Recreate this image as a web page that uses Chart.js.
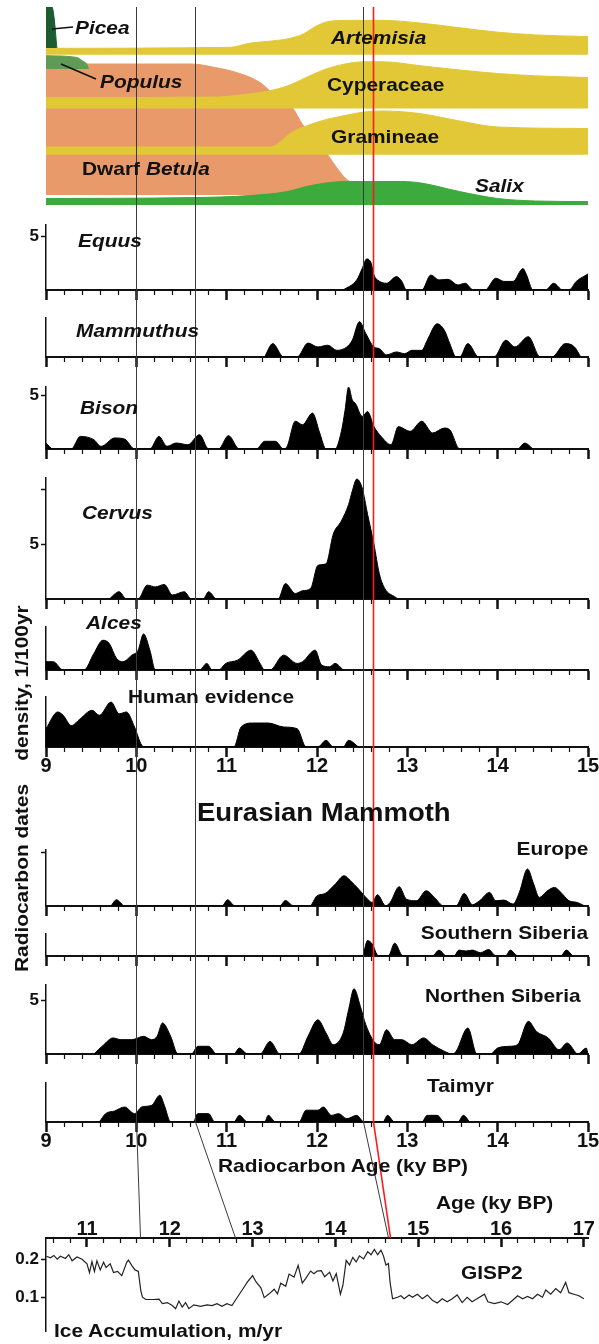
<!DOCTYPE html>
<html>
<head>
<meta charset="utf-8">
<script src="https://cdn.jsdelivr.net/npm/chart.js@4.4.1/dist/chart.umd.min.js"></script>
<style>
  body { margin: 0; background: #fff; }
  #page { position: relative; width: 599px; height: 1344px; overflow: hidden; background: #fff;
          font-family: "Liberation Sans", Arial, sans-serif; }
  #page canvas { position: absolute; left: 0; }
  .lbl { position: absolute; font-weight: bold; white-space: nowrap; line-height: 1; color: #111; z-index: 5; }
</style>
</head>
<body>
<div id="page"></div>
<script>
// ---- boundaries (radiocarbon age, calendar age) ----
const boundaryRc = [10.0, 10.65, 12.51, 12.62];
const boundaryCal = [11.64, 12.79, 14.64, 14.66];
const boundaryColor = ['#3a3a3a', '#3a3a3a', '#3a3a3a', '#ff1a1a'];

// ---- pollen diagram: [radiocarbon age, band thickness] ----
const picea = [[9, 41], [9.066, 41], [9.09, 30], [9.12, 0]];
const populus = [[9, 13.3], [9.34, 11.6], [9.40, 8.3], [9.46, 3.3], [9.47, 0]];
const artemisia = [[9, 6.4], [11.04, 7.4], [11.25, 11.4], [11.46, 13.4], [11.67, 15.8], [11.85, 20.8], [11.97, 27.5],
  [12.10, 32.6], [12.31, 34.3], [12.73, 34.3], [13.15, 31.6], [13.58, 26.9], [14.0, 22.5], [14.42, 19.8], [15, 18.1]];
const cyperaceae = [[9, 10.8], [10.9, 11.4], [11.11, 13], [11.46, 17.4], [11.67, 22.4], [11.88, 30.9], [12.10, 39.4],
  [12.31, 44.4], [12.52, 46.6], [12.73, 46.6], [13.15, 42.6], [13.58, 38.4], [14.0, 34.9], [14.42, 32.6], [15, 30.9]];
const gramineae = [[9, 7.8], [11.48, 7.8], [11.55, 10], [11.71, 21.8], [11.88, 28.8], [12.10, 35.2], [12.31, 39.3],
  [12.52, 42.8], [12.73, 43.8], [13.15, 41.1], [13.58, 33.8], [14.0, 27.8], [15, 26.3]];
const dwarfBetula = [[9, 131], [10.61, 131], [10.87, 127.5], [11.11, 122.5], [11.37, 112.5], [11.48, 104], [11.73, 87],
  [11.84, 70.5], [11.98, 55], [12.12, 40], [12.22, 27], [12.31, 17], [12.37, 12], [12.42, 0]];
const salix = [[9, 6.5], [10.61, 7.4], [11.25, 9.4], [11.67, 13.4], [11.88, 18.4], [12.10, 22], [12.31, 23.5],
  [12.94, 23.5], [13.15, 22], [13.58, 13.4], [14.0, 6.5], [14.42, 4], [15, 3.4]];

// ---- radiocarbon date densities, 1/100yr: [age ky BP, density] ----
const equus = [[12.29, 0], [12.44, 0.94], [12.50, 2.0], [12.55, 2.9], [12.60, 2.5], [12.63, 1.4], [12.67, 0.94], [12.77, 0.63],
  [12.88, 1.25], [12.94, 0.8], [12.99, 0], [13.16, 0], [13.26, 1.4], [13.35, 0.94], [13.45, 1.0], [13.56, 0.47], [13.64, 0.63],
  [13.73, 0], [13.86, 0], [13.98, 1.1], [14.07, 0.8], [14.17, 0.8], [14.28, 2.0], [14.32, 1.4], [14.39, 0], [14.53, 0],
  [14.62, 0.63], [14.72, 0], [14.79, 0], [14.87, 0.8], [14.98, 1.4], [15, 1.5]];
const mammuthus = [[11.42, 0], [11.51, 1.25], [11.63, 0], [11.78, 0], [11.90, 1.3], [12.01, 0.94], [12.12, 1.1], [12.22, 0.62],
  [12.33, 0.94], [12.39, 1.56], [12.47, 3.3], [12.54, 2.2], [12.63, 0.94], [12.69, 0.78], [12.77, 0.2], [12.88, 0.47],
  [12.97, 0.31], [13.05, 0.62], [13.16, 0.62], [13.22, 1.56], [13.33, 3.1], [13.41, 2.5], [13.47, 1.25], [13.54, 0],
  [13.58, 0], [13.67, 1.25], [13.79, 0], [13.96, 0], [14.09, 1.56], [14.19, 0.94], [14.34, 1.9], [14.47, 0], [14.60, 0],
  [14.75, 1.25], [14.85, 0.94], [14.92, 0]];
const bison = [[9.0, 0.56], [9.08, 0], [9.28, 0], [9.38, 1.18], [9.53, 0.87], [9.61, 0.25], [9.76, 1.03], [9.87, 0.93],
  [9.98, 0], [10.15, 0], [10.25, 1.18], [10.34, 0.25], [10.44, 0.56], [10.57, 0.4], [10.70, 1.34], [10.8, 0], [10.91, 0],
  [11.02, 1.25], [11.14, 0], [11.33, 0], [11.42, 0.72], [11.54, 0.72], [11.63, 0], [11.67, 0.25], [11.76, 2.6], [11.84, 2.27],
  [11.95, 3.36], [12.03, 1.5], [12.10, 0], [12.2, 0], [12.27, 1.65], [12.31, 3.6], [12.35, 5.8], [12.39, 4.6], [12.43, 4.2],
  [12.50, 3.05], [12.56, 3.5], [12.63, 2.1], [12.71, 1.18], [12.82, 0.4], [12.90, 2.1], [13.03, 1.65], [13.16, 2.6],
  [13.28, 1.5], [13.41, 1.96], [13.47, 1.8], [13.58, 0], [14.22, 0], [14.30, 0.56], [14.39, 0]];
const cervus = [[9.70, 0], [9.81, 0.66], [9.89, 0], [10.02, 0], [10.12, 1.26], [10.21, 1.1], [10.31, 1.32], [10.40, 0.36],
  [10.53, 0.66], [10.61, 0], [10.74, 0], [10.80, 0.66], [10.89, 0], [11.57, 0], [11.65, 1.4], [11.76, 0.5], [11.84, 0.75],
  [11.93, 0.96], [12.01, 3.06], [12.10, 3.2], [12.18, 5.9], [12.27, 7.1], [12.35, 8.6], [12.39, 9.8], [12.44, 10.9],
  [12.50, 10.1], [12.56, 7.7], [12.63, 5.0], [12.69, 2.3], [12.75, 0.96], [12.86, 0.2], [12.9, 0]];
const alces = [[9.0, 0.78], [9.08, 0.78], [9.19, 0], [9.42, 0], [9.53, 1.56], [9.63, 2.8], [9.70, 2.5], [9.78, 1.1],
  [9.85, 0.78], [9.95, 1.4], [10.02, 1.87], [10.08, 3.4], [10.15, 1.87], [10.21, 0], [10.70, 0], [10.78, 0.62], [10.84, 0],
  [10.91, 0], [10.99, 0.62], [11.12, 0.93], [11.27, 1.87], [11.37, 0.62], [11.42, 0], [11.48, 0], [11.63, 1.4], [11.78, 0.62],
  [11.84, 0.78], [11.98, 1.87], [12.05, 0.47], [12.14, 0.31], [12.20, 0.62], [12.29, 0]];
const human = [[9.0, 1.71], [9.13, 3.27], [9.19, 2.96], [9.28, 2.0], [9.38, 2.65], [9.51, 3.43], [9.59, 2.96], [9.72, 4.2],
  [9.81, 3.1], [9.89, 3.27], [9.98, 1.87], [10.06, 0.16], [10.1, 0], [11.08, 0], [11.16, 1.87], [11.29, 2.24], [11.46, 2.24],
  [11.63, 1.87], [11.78, 1.71], [11.88, 0], [12.01, 0], [12.10, 0.62], [12.18, 0], [12.29, 0], [12.35, 0.62], [12.46, 0]];
const europe = [[9.72, 0], [9.78, 0.56], [9.87, 0], [10.95, 0], [11.01, 0.56], [11.09, 0], [11.59, 0], [11.65, 0.5],
  [11.74, 0], [11.92, 0], [12.0, 0.93], [12.09, 1.15], [12.20, 2.0], [12.30, 2.8], [12.37, 2.34], [12.46, 1.56], [12.56, 0.62],
  [12.61, 0.31], [12.67, 1.03], [12.76, 0], [12.81, 0.31], [12.91, 1.78], [12.99, 0.62], [13.10, 0.47], [13.21, 1.4],
  [13.30, 0.78], [13.4, 0], [13.54, 0], [13.63, 1.15], [13.72, 0.1], [13.80, 0.47], [13.91, 1.25], [13.98, 0.47],
  [14.07, 0.53], [14.17, 0.16], [14.24, 1.25], [14.33, 3.43], [14.40, 2.0], [14.46, 0.78], [14.55, 1.4], [14.63, 1.71],
  [14.70, 1.25], [14.79, 0.47], [14.88, 0.31], [14.96, 0]];
const southernSiberia = [[12.51, 0], [12.56, 1.5], [12.61, 1.18], [12.68, 0], [12.79, 0], [12.86, 1.25], [12.95, 0],
  [13.28, 0], [13.35, 0.56], [13.43, 0], [13.52, 0], [13.57, 0.56], [13.65, 0.47], [13.72, 0.56], [13.81, 0.31],
  [13.90, 0.62], [13.98, 0], [14.09, 0], [14.14, 0.56], [14.22, 0], [14.70, 0], [14.76, 0.56], [14.83, 0]];
const northernSiberia = [[9.53, 0], [9.64, 0.87], [9.74, 1.5], [9.83, 1.34], [9.95, 1.34], [10.08, 1.65], [10.17, 1.34],
  [10.23, 1.65], [10.29, 2.9], [10.38, 1.65], [10.46, 0], [10.61, 0], [10.68, 0.72], [10.80, 0.72], [10.89, 0], [11.08, 0],
  [11.14, 0.56], [11.23, 0], [11.37, 0], [11.48, 1.18], [11.59, 0], [11.80, 0], [11.90, 1.65], [12.01, 3.2], [12.10, 1.96],
  [12.18, 0.87], [12.29, 1.96], [12.35, 4.14], [12.41, 6.1], [12.48, 4.45], [12.54, 2.74], [12.63, 1.18], [12.69, 0.87],
  [12.77, 2.27], [12.86, 1.34], [12.94, 1.34], [13.05, 0.87], [13.18, 1.5], [13.28, 0.87], [13.41, 0.25], [13.50, 0],
  [13.54, 0.25], [13.67, 2.43], [13.77, 0], [13.92, 0], [14.0, 0.56], [14.13, 0.72], [14.22, 0.87], [14.34, 3.05],
  [14.43, 2.1], [14.56, 1.5], [14.68, 0.4], [14.77, 1.03], [14.89, 0], [14.98, 0.56], [15, 0]];
const taimyr = [[9.59, 0], [9.66, 0.78], [9.76, 1.03], [9.87, 1.4], [9.98, 0.78], [10.06, 1.4], [10.17, 1.56], [10.26, 2.5],
  [10.31, 1.56], [10.38, 0], [10.63, 0], [10.68, 0.78], [10.80, 0.78], [10.87, 0], [11.08, 0], [11.14, 0.62], [11.23, 0],
  [11.42, 0], [11.46, 0.62], [11.54, 0], [11.80, 0], [11.88, 1.1], [12.01, 1.1], [12.07, 1.4], [12.16, 0.62], [12.24, 0.78],
  [12.33, 0.31], [12.44, 0.62], [12.52, 0], [12.73, 0], [12.78, 0.62], [12.86, 0], [13.16, 0], [13.22, 0.62], [13.33, 0.62],
  [13.41, 0], [13.56, 0], [13.62, 0.62], [13.69, 0]];

// ---- GISP2 ice accumulation, m/yr: [calendar age ky BP, accumulation] ----
const gisp2 = [[10.51, 0.208], [10.56, 0.204], [10.60, 0.210], [10.64, 0.200], [10.68, 0.208], [10.74, 0.202], [10.78, 0.212],
  [10.82, 0.196], [10.88, 0.206], [10.94, 0.200], [11.0, 0.188], [11.03, 0.165], [11.06, 0.194], [11.09, 0.168], [11.12, 0.196],
  [11.16, 0.172], [11.20, 0.192], [11.23, 0.178], [11.28, 0.188], [11.32, 0.165], [11.37, 0.168], [11.42, 0.157], [11.48, 0.192],
  [11.50, 0.198], [11.54, 0.184], [11.58, 0.172], [11.62, 0.168], [11.65, 0.117], [11.67, 0.1], [11.71, 0.094], [11.81, 0.094],
  [11.87, 0.095], [11.91, 0.083], [11.97, 0.086], [12.03, 0.078], [12.07, 0.070], [12.11, 0.090], [12.15, 0.074], [12.19, 0.086],
  [12.23, 0.070], [12.29, 0.080], [12.37, 0.076], [12.45, 0.080], [12.51, 0.078], [12.57, 0.083], [12.63, 0.076], [12.69, 0.083],
  [12.75, 0.078], [12.81, 0.098], [12.88, 0.121], [12.94, 0.141], [13.00, 0.157], [13.04, 0.141], [13.10, 0.125], [13.14, 0.099],
  [13.20, 0.109], [13.26, 0.121], [13.30, 0.109], [13.34, 0.137], [13.40, 0.129], [13.44, 0.161], [13.50, 0.153], [13.55, 0.184],
  [13.60, 0.137], [13.64, 0.149], [13.70, 0.169], [13.74, 0.162], [13.78, 0.169], [13.83, 0.170], [13.87, 0.154], [13.93, 0.166],
  [13.97, 0.143], [14.01, 0.162], [14.06, 0.108], [14.09, 0.131], [14.13, 0.197], [14.17, 0.185], [14.21, 0.205], [14.25, 0.193],
  [14.29, 0.209], [14.34, 0.201], [14.39, 0.220], [14.43, 0.212], [14.47, 0.226], [14.51, 0.212], [14.55, 0.224], [14.58, 0.209],
  [14.61, 0.185], [14.64, 0.189], [14.66, 0.139], [14.69, 0.096], [14.75, 0.1], [14.79, 0.104], [14.83, 0.096], [14.89, 0.106],
  [14.93, 0.1], [14.99, 0.108], [15.05, 0.096], [15.11, 0.106], [15.17, 0.092], [15.23, 0.085], [15.29, 0.096], [15.35, 0.088],
  [15.41, 0.096], [15.47, 0.106], [15.53, 0.086], [15.59, 0.1], [15.65, 0.088], [15.71, 0.096], [15.80, 0.108], [15.84, 0.088],
  [15.92, 0.083], [16.0, 0.088], [16.08, 0.081], [16.14, 0.092], [16.20, 0.104], [16.26, 0.096], [16.32, 0.102], [16.38, 0.096],
  [16.44, 0.108], [16.50, 0.1], [16.54, 0.119], [16.60, 0.108], [16.66, 0.123], [16.72, 0.112], [16.78, 0.139], [16.82, 0.112],
  [16.88, 0.108], [16.94, 0.104], [17.0, 0.096]];

const FONT = '"Liberation Sans", Arial, sans-serif';
const page = document.getElementById('page');
const pts = arr => arr.map(([x, y]) => ({x, y}));

// vertical boundary lines through every panel, slanting down to the GISP2 time scale
const ageLines = {
  id: 'ageLines',
  afterDatasetsDraw(chart, args, opts) {
    if (!opts.mode) return;
    const {ctx, chartArea} = chart;
    ctx.save();
    boundaryRc.forEach((age, i) => {
      ctx.strokeStyle = boundaryColor[i];
      ctx.lineWidth = i === 3 ? 1.6 : 1;
      ctx.beginPath();
      if (opts.mode === 'slant') {
        ctx.moveTo(Math.round(chart.scales.rc.getPixelForValue(age)) + 0.5, 0);
        ctx.lineTo(Math.round(chart.scales.cal.getPixelForValue(boundaryCal[i])) + 0.5, chartArea.top);
      } else {
        const px = Math.round(chart.scales.x.getPixelForValue(age)) + 0.5;
        ctx.moveTo(px, opts.mode === 'fromArea' ? chartArea.top : 0);
        ctx.lineTo(px, opts.mode === 'toArea' ? chartArea.bottom : chart.height);
      }
      ctx.stroke();
    });
    ctx.restore();
  }
};
Chart.register(ageLines);

function makeCanvas(top, bottom) {
  const c = document.createElement('canvas');
  c.width = 599;
  c.height = bottom - top;
  c.style.top = top + 'px';
  c.style.width = '599px';
  c.style.height = (bottom - top) + 'px';
  page.appendChild(c);
  return c;
}

function baseOptions(p, left) {
  return {
    responsive: false,
    animation: false,
    events: [],
    layout: {padding: {left: left, right: 11, top: p.areaTop - p.top, bottom: p.bottom - p.areaBottom}},
    plugins: {legend: {display: false}, tooltip: {enabled: false}, ageLines: {mode: p.lineMode || 'full'}}
  };
}

function leftAxis(min, max, step, labelled, fmt) {
  return {
    type: 'linear', min, max, position: 'left',
    afterFit: s => { s.width = 46; },
    ticks: {stepSize: step, includeBounds: false, padding: 2, color: '#111',
      font: {family: FONT, weight: 'bold', size: 17},
      callback: v => labelled.some(l => Math.abs(l - v) < 1e-6) ? fmt(v) : ''},
    grid: {drawOnChartArea: false, tickLength: 5, tickWidth: 1.5,
      tickColor: c => (c.tick && c.tick.value > 1e-6) ? '#111' : 'rgba(0,0,0,0)'},
    border: {color: '#111', width: 1.5}
  };
}

function pollenPanel(p) {
  const band = (data, base, color, order) => ({
    data: pts(data.map(([x, v]) => [x, base + v])),
    fill: {value: base},
    backgroundColor: color,
    borderColor: color,
    borderWidth: 1,
    pointRadius: 0,
    cubicInterpolationMode: 'monotone',
    order
  });
  const opts = baseOptions(p, 46);
  opts.scales = {
    x: {type: 'linear', min: 9, max: 15, display: false},
    y: {type: 'linear', min: 0, max: 198, display: false}
  };
  new Chart(makeCanvas(p.top, p.bottom), {
    type: 'line',
    data: {datasets: [
      band(dwarfBetula, 10, '#e89a6b', 4),
      band(artemisia, 150.3, '#e2c837', 3),
      band(cyperaceae, 96.6, '#e2c837', 3),
      band(gramineae, 50.2, '#e2c837', 3),
      band(salix, 0, '#3caa3c', 3),
      band(picea, 157, '#1d5c32', 1),
      band(populus, 136, '#5f9b57', 1)
    ]},
    options: opts
  });
}

function densityPanel(p) {
  const opts = baseOptions(p, 0);
  opts.scales = {
    x: {
      type: 'linear', min: 9, max: 15, position: {y: 0},
      ticks: {stepSize: 1, maxTicksLimit: 100, autoSkip: false, maxRotation: 0, display: !!p.xLabels,
        padding: -2, color: '#111', font: {family: FONT, weight: 'bold', size: 20}},
      grid: {drawOnChartArea: false, tickLength: 9, tickWidth: 2.5, tickColor: '#111'},
      border: {color: '#111', width: 2}
    },
    xMinor: {
      type: 'linear', min: 9, max: 15, position: {y: 0},
      ticks: {stepSize: 0.2, maxTicksLimit: 100, autoSkip: false, display: false},
      grid: {drawOnChartArea: false, tickLength: 5, tickWidth: 1.2, tickColor: '#111'},
      border: {display: false}
    },
    y: leftAxis(0, p.yMax, 5, p.yLabels || [], v => String(v))
  };
  new Chart(makeCanvas(p.top, p.bottom), {
    type: 'line',
    data: {datasets: [{
      data: pts(p.series), fill: 'origin', backgroundColor: '#000', borderColor: '#000',
      borderWidth: 1, pointRadius: 0, cubicInterpolationMode: 'monotone'
    }]},
    options: opts
  });
}

function gispPanel(p) {
  const opts = baseOptions(p, 0);
  const yMin = 0.009, yMax = 0.256, calMin = 10.505, calMax = 17.05;
  opts.plugins.ageLines.mode = 'slant';
  opts.scales = {
    cal: {
      type: 'linear', axis: 'x', min: calMin, max: calMax, position: {y: yMax},
      ticks: {stepSize: 1, includeBounds: false, maxTicksLimit: 100, autoSkip: false, maxRotation: 0, padding: -29,
        color: '#111', font: {family: FONT, weight: 'bold', size: 20}},
      grid: {drawOnChartArea: false, tickLength: 8, tickWidth: 2.5, tickColor: '#111'},
      border: {color: '#111', width: 2}
    },
    calMinor: {
      type: 'linear', axis: 'x', min: calMin, max: calMax, position: {y: yMax},
      ticks: {stepSize: 0.2, includeBounds: false, maxTicksLimit: 100, autoSkip: false, display: false},
      grid: {drawOnChartArea: false, tickLength: 5, tickWidth: 1.2, tickColor: '#111'},
      border: {display: false}
    },
    rc: {type: 'linear', axis: 'x', min: 9, max: 15, display: false},
    y: leftAxis(yMin, yMax, 0.1, [0.1, 0.2], v => v.toFixed(1))
  };
  new Chart(makeCanvas(p.top, p.bottom), {
    type: 'line',
    data: {datasets: [{
      data: pts(gisp2), xAxisID: 'cal', yAxisID: 'y', fill: false,
      borderColor: '#222', borderWidth: 1.2, pointRadius: 0, tension: 0
    }]},
    options: opts
  });
}

pollenPanel({top: 0, bottom: 212, areaTop: 7, areaBottom: 205, lineMode: 'fromArea'});
densityPanel({top: 212, bottom: 305, areaTop: 225, areaBottom: 290, yMax: 6.07, yLabels: [5], series: equus});
densityPanel({top: 305, bottom: 372, areaTop: 318, areaBottom: 357, yMax: 3.64, series: mammuthus});
densityPanel({top: 372, bottom: 462, areaTop: 387, areaBottom: 449, yMax: 5.8, yLabels: [5], series: bison});
densityPanel({top: 462, bottom: 612, areaTop: 478, areaBottom: 599, yMax: 11.0, yLabels: [5], series: cervus});
densityPanel({top: 612, bottom: 683, areaTop: 627, areaBottom: 670, yMax: 4.05, series: alces});
densityPanel({top: 683, bottom: 790, areaTop: 697, areaBottom: 747, yMax: 4.67, series: human, xLabels: true});
densityPanel({top: 790, bottom: 918, areaTop: 850, areaBottom: 906, yMax: 5.2, series: europe});
densityPanel({top: 918, bottom: 968, areaTop: 934, areaBottom: 957, yMax: 2.15, series: southernSiberia});
densityPanel({top: 968, bottom: 1068, areaTop: 985, areaBottom: 1054, yMax: 6.45, yLabels: [5], series: northernSiberia});
densityPanel({top: 1068, bottom: 1190, areaTop: 1083, areaBottom: 1122, yMax: 3.64, series: taimyr, xLabels: true, lineMode: 'toArea'});
gispPanel({top: 1122, bottom: 1344, areaTop: 1238, areaBottom: 1344});

// ---- text labels ----
function label(html, x, y, size, extra) {
  extra = extra || {};
  const d = document.createElement('div');
  d.className = 'lbl';
  d.innerHTML = html;
  d.style.fontSize = size + 'px';
  d.style.top = (y - size / 2) + 'px';
  const sx = extra.sx || 1.1;
  if (extra.right) {
    d.style.right = (599 - x) + 'px';
    d.style.transformOrigin = 'right center';
    d.style.transform = 'scaleX(' + sx + ')';
  } else if (extra.rotate) {
    d.style.left = x + 'px';
    d.style.top = y + 'px';
    d.style.transform = 'translate(-50%, -50%) rotate(-90deg) scaleX(' + sx + ')';
  } else {
    d.style.left = x + 'px';
    d.style.transformOrigin = 'left center';
    d.style.transform = 'scaleX(' + sx + ')';
  }
  if (extra.italic) d.style.fontStyle = 'italic';
  page.appendChild(d);
}
label('Picea', 75, 27, 19, {italic: true});
label('Populus', 100, 81, 19, {italic: true});
label('Artemisia', 331, 37, 19, {italic: true});
label('Cyperaceae', 327, 84, 19);
label('Gramineae', 331, 136, 19);
label('Dwarf <i>Betula</i>', 82, 168, 19);
label('Salix', 475, 185, 19, {italic: true});
label('Equus', 78, 240, 19, {italic: true});
label('Mammuthus', 76, 330, 19, {italic: true});
label('Bison', 80, 407, 19, {italic: true});
label('Cervus', 82, 512, 19, {italic: true});
label('Alces', 86, 622, 19, {italic: true});
label('Human evidence', 128, 696, 19);
label('density, 1/100yr', 21, 683, 19, {rotate: true});
label('Eurasian Mammoth', 197, 812, 25);
label('Radiocarbon dates', 21, 878, 19, {rotate: true});
label('Europe', 588, 848, 19, {right: true});
label('Southern Siberia', 588, 932, 19, {right: true});
label('Northen Siberia', 425, 995, 19);
label('Taimyr', 427, 1085, 19);
label('Radiocarbon Age (ky BP)', 218, 1165, 19);
label('Age (ky BP)', 436, 1202, 19);
label('GISP2', 461, 1272, 19);
label('Ice Accumulation, m/yr', 54, 1330, 19);

// leader lines for Picea / Populus labels
const leaders = document.createElementNS('http://www.w3.org/2000/svg', 'svg');
leaders.setAttribute('width', '599');
leaders.setAttribute('height', '120');
leaders.style.cssText = 'position:absolute;left:0;top:0;z-index:4';
leaders.innerHTML = '<line x1="52" y1="29" x2="73" y2="27" stroke="#111" stroke-width="1.5"/>' +
  '<line x1="61" y1="64" x2="96" y2="79" stroke="#111" stroke-width="1.5"/>';
page.appendChild(leaders);
</script>
</body>
</html>
